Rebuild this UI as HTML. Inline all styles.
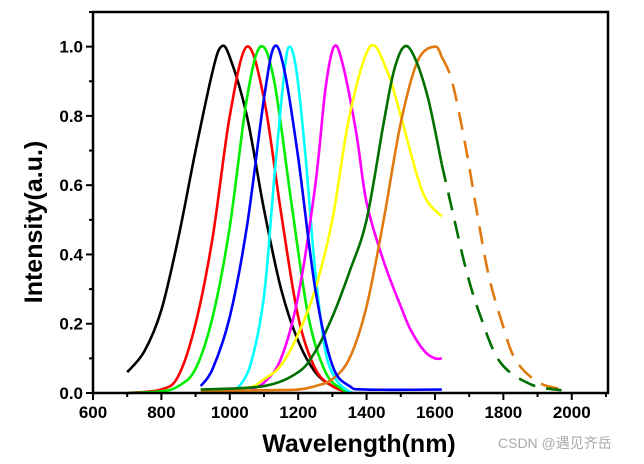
<!DOCTYPE html>
<html><head><meta charset="utf-8"><style>
body{margin:0;background:#fff}
svg{display:block}
text{font-family:"Liberation Sans",sans-serif;font-weight:bold;fill:#000}
</style></head><body>
<svg id="c" width="644" height="464"></svg>
<script>
const xTicks=[600,800,1000,1200,1400,1600,1800,2000];
const yTicks=[0.0,0.2,0.4,0.6,0.8,1.0];
const blackW=[700,750,800,850,900,950,975,1000,1050,1100,1150,1200,1250,1300,1350];
const blackV=[0.06,0.12,0.24,0.45,0.70,0.93,1.0,0.97,0.80,0.53,0.30,0.15,0.06,0.02,0.0];
const redW=[700,800,850,900,950,1000,1050,1100,1150,1200,1250,1300,1350];
const redV=[0,0.01,0.05,0.2,0.45,0.8,1.0,0.85,0.52,0.22,0.07,0.02,0];
const greenW=[700,800,850,900,950,1000,1050,1090,1130,1180,1230,1280,1330,1360];
const greenV=[0,0.005,0.02,0.07,0.22,0.48,0.85,1,0.9,0.55,0.22,0.06,0.01,0];
const blueW=[915,950,1000,1050,1100,1130,1160,1200,1250,1300,1350,1400,1620];
const blueV=[0.02,0.07,0.22,0.48,0.85,1,0.93,0.68,0.3,0.08,0.02,0.01,0.01];
const cyanW=[1020,1060,1100,1130,1160,1175,1195,1220,1250,1280,1310,1340,1360];
const cyanV=[0.01,0.08,0.28,0.62,0.93,1,0.93,0.7,0.35,0.12,0.04,0.01,0];
const magW=[1060,1100,1150,1200,1250,1280,1305,1330,1370,1400,1450,1500,1530,1570,1600,1620];
const magV=[0.01,0.03,0.1,0.28,0.6,0.88,1,0.95,0.75,0.55,0.38,0.25,0.18,0.12,0.1,0.1];
const yelW=[915,1050,1100,1150,1200,1250,1300,1350,1410,1460,1500,1550,1580,1620];
const yelV=[0.01,0.015,0.04,0.08,0.17,0.3,0.5,0.8,1,0.93,0.8,0.62,0.55,0.51];
const dgW=[915,1100,1200,1250,1300,1350,1400,1450,1480,1510,1540,1580,1620];
const dgV=[0.01,0.02,0.06,0.12,0.22,0.35,0.5,0.78,0.93,1,0.97,0.85,0.66];
const dgDashW=[1620,1650,1690,1730,1790,1880,1970];
const dgDashV=[0.66,0.53,0.36,0.23,0.09,0.025,0.008];
const orW=[915,1100,1200,1250,1300,1350,1400,1450,1500,1550,1600,1620];
const orV=[0.005,0.008,0.01,0.02,0.04,0.1,0.25,0.5,0.78,0.96,1,0.97];
const orDashW=[1620,1650,1690,1723,1757,1797,1836,1904,1983];
const orDashV=[0.97,0.9,0.71,0.52,0.34,0.2,0.095,0.03,0.009];

const L=93,R=608,T=12,B=393,X0=600,X1=2106,Y1=1.1;
const sx=w=>L+(w-X0)/(X1-X0)*(R-L);
const sy=v=>B-v/Y1*(B-T);
const NS='http://www.w3.org/2000/svg';
const svg=document.getElementById('c');
function mk(t,a,p){const e=document.createElementNS(NS,t);for(const k in a)e.setAttribute(k,a[k]);(p||svg).appendChild(e);return e;}
function path(ws,vs){const p=ws.map((w,i)=>[sx(w),sy(vs[i])]);let d='M'+p[0][0]+','+p[0][1];
for(let i=0;i<p.length-1;i++){const p0=p[i-1]||p[i],p1=p[i],p2=p[i+1],p3=p[i+2]||p2;
d+=' C'+(p1[0]+(p2[0]-p0[0])/6)+','+(p1[1]+(p2[1]-p0[1])/6)+' '+(p2[0]-(p3[0]-p1[0])/6)+','+(p2[1]-(p3[1]-p1[1])/6)+' '+p2[0]+','+p2[1];}return d;}
const series=[
['black-curve',blackW,blackV,'#000',null],
['red-curve',redW,redV,'#ff0000',null],
['green-curve',greenW,greenV,'#00ee00',null],
['cyan-curve',cyanW,cyanV,'#00ffff',null],
['magenta-curve',magW,magV,'#ff00ff',null],
['yellow-curve',yelW,yelV,'#ffff00',null],
['orange-curve',orW,orV,'#e07a10',null],
['orange-dashed-curve',orDashW,orDashV,'#e07a10','18 11'],
['darkgreen-curve',dgW,dgV,'#007000',null],
['darkgreen-dashed-curve',dgDashW,dgDashV,'#007000','18 11'],
['blue-curve',blueW,blueV,'#0000ff',null]];
const cg=mk('g',{});


series.forEach(s=>{const e=mk('path',{d:path(s[1],s[2]),fill:'none',stroke:s[3],'stroke-width':2.6,'stroke-linejoin':'round'},cg);
if(s[4])e.setAttribute('stroke-dasharray',s[4]);

});
const fr=mk('rect',{x:L,y:T,width:R-L,height:B-T,fill:'none',stroke:'#000','stroke-width':2.5});


for(let w=600;w<=2100;w+=100){const maj=w%200===0;mk('line',{x1:sx(w),x2:sx(w),y1:B,y2:B+(maj?7:4),stroke:'#000','stroke-width':2});}
for(let v=0;v<=1.1001;v+=0.1){const maj=Math.round(v*10)%2===0;mk('line',{x1:L,x2:L-(maj?7:4),y1:sy(v),y2:sy(v),stroke:'#000','stroke-width':2});}
xTicks.forEach(w=>{const t=mk('text',{x:sx(w),y:B+25,'text-anchor':'middle','font-size':17});t.textContent=w;

});
yTicks.forEach(v=>{const t=mk('text',{x:L-10,y:sy(v)+6,'text-anchor':'end','font-size':17});t.textContent=v.toFixed(1);

});
const xt=mk('text',{x:359,y:452,'text-anchor':'middle','font-size':25});xt.textContent='Wavelength(nm)';


const yt=mk('text',{x:0,y:0,'text-anchor':'middle','font-size':25,transform:'translate(42,222) rotate(-90)'});yt.textContent='Intensity(a.u.)';


const wm=mk('text',{x:498,y:448,'font-size':14});wm.textContent='CSDN @遇见齐岳';
wm.setAttribute('style','font-weight:normal;fill:#aaa;font-family:"Liberation Sans","Noto Sans CJK SC",sans-serif');


</script>
</body></html>
